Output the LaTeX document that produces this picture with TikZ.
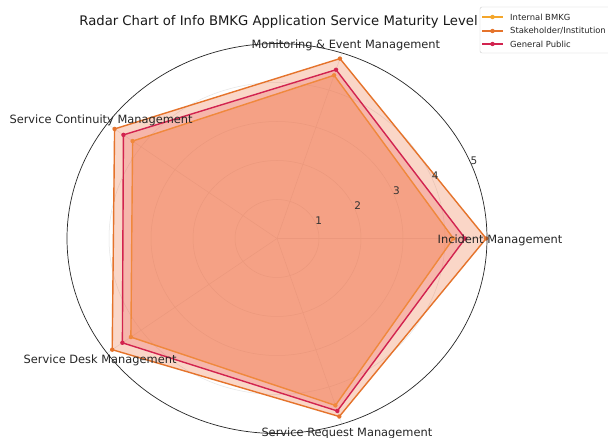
\documentclass[tikz,border=0pt]{standalone}
\usepackage{fontspec}
\setmainfont{DejaVu Sans}
\usetikzlibrary{positioning}
\definecolor{rint}{HTML}{F4A62A}
\definecolor{rstk}{HTML}{E5732B}
\definecolor{rpub}{HTML}{D2234F}
\definecolor{rintfill}{RGB}{250,140,50}
\definecolor{rstkfill}{RGB}{240,120,70}
\definecolor{rpubfill}{RGB}{235,90,90}
\tikzset{
  rgrid/.style={black!10, line width=0.5pt},
  rspine/.style={black!85, line width=0.7pt},
  rseries/.style={line width=1.4pt, line join=miter},
  rfill/.style={fill=#1, fill opacity=0.3},
  raxlbl/.style={font=\fontsize{11.4}{13}\selectfont, text=black!85, inner sep=1pt},
  rticklbl/.style={font=\fontsize{10.5}{12}\selectfont, text=black!80, inner sep=1pt},
  rtitle/.style={font=\fontsize{13.2}{15}\selectfont, text=black!90},
  rleg/.style={font=\fontsize{8.4}{9}\selectfont, text=black!85, anchor=west, inner sep=1pt},
}

\begin{document}
\begin{tikzpicture}[x=1pt,y=1pt]
  \useasboundingbox[fill=white] (0,0) rectangle (608,438);

  \node[rtitle] (title) at (278.5,416)
    {Radar Chart of Info BMKG Application Service Maturity Level};

  \begin{scope}[shift={(277,199.5)}, x=42pt, y=39pt]
    % --- grid ---
    \foreach \r in {1,...,4}
      \draw[rgrid] (0,0) ellipse [x radius=\r*42pt, y radius=\r*39pt];
    \foreach \a in {0,72,...,288}
      \draw[rgrid] (0,0) -- (\a:5);

    % --- Internal BMKG ---
    \filldraw[rseries, draw=rint, rfill=rintfill, fill opacity=0.35]
      (0:4.2) -- (72:4.4) -- (144:4.25) -- (216:4.3) -- (288:4.5) -- cycle;
    \foreach \a/\r in {0/4.2,72/4.4,144/4.25,216/4.3,288/4.5}
      \fill[rint] (\a:\r) circle (2.2pt);

    % --- Stakeholder/Institution ---
    \filldraw[rseries, draw=rstk, rfill=rstkfill]
      (0:4.98) -- (72:4.85) -- (144:4.78) -- (216:4.85) -- (288:4.8) -- cycle;
    \foreach \a/\r in {0/4.98,72/4.85,144/4.78,216/4.85,288/4.8}
      \fill[rstk] (\a:\r) circle (2.2pt);

    % --- General Public ---
    \filldraw[rseries, draw=rpub, rfill=rpubfill, fill opacity=0.25]
      (0:4.48) -- (72:4.55) -- (144:4.52) -- (216:4.55) -- (288:4.65) -- cycle;
    \foreach \a/\r in {0/4.48,72/4.55,144/4.52,216/4.55,288/4.65}
      \fill[rpub] (\a:\r) circle (2.2pt);

    \draw[rspine] (0,0) ellipse [x radius=210pt, y radius=195pt];

    % --- radial ticks ---
    \foreach \r in {1,...,5}
      \node[rticklbl] (tick\r) at ([shift={(3pt,3pt)}]22.5:\r) {\r};

    % --- axis labels ---
    \node[raxlbl] (incident)   at ([shift={(13pt,-1.5pt)}]0:5)  {Incident Management};
    \node[raxlbl] (monitoring) at ([shift={(4pt,8pt)}]72:5)     {Monitoring \& Event Management};
    \node[raxlbl] (continuity) at ([shift={(-6pt,4pt)}]144:5)   {Service Continuity Management};
    \node[raxlbl] (desk)       at ([shift={(-7pt,-7pt)}]216:5)  {Service Desk Management};
    \node[raxlbl] (request)    at ([shift={(5pt,-9pt)}]288:5)   {Service Request Management};
  \end{scope}

  % --- legend ---
  \draw[black!20, fill=white, rounded corners=2pt] (480,385) rectangle (614,431);
  \foreach \c/\t/\y in {rint/Internal BMKG/421, rstk/{Stakeholder/Institution}/407,
                        rpub/General Public/394} {
    \draw[\c, line width=1.4pt] (482,\y) -- (503,\y);
    \fill[\c] (492.5,\y) circle (2.2pt);
    \node[rleg] (leg\y) at (509,\y) {\t};
  }
\end{tikzpicture}
\end{document}
